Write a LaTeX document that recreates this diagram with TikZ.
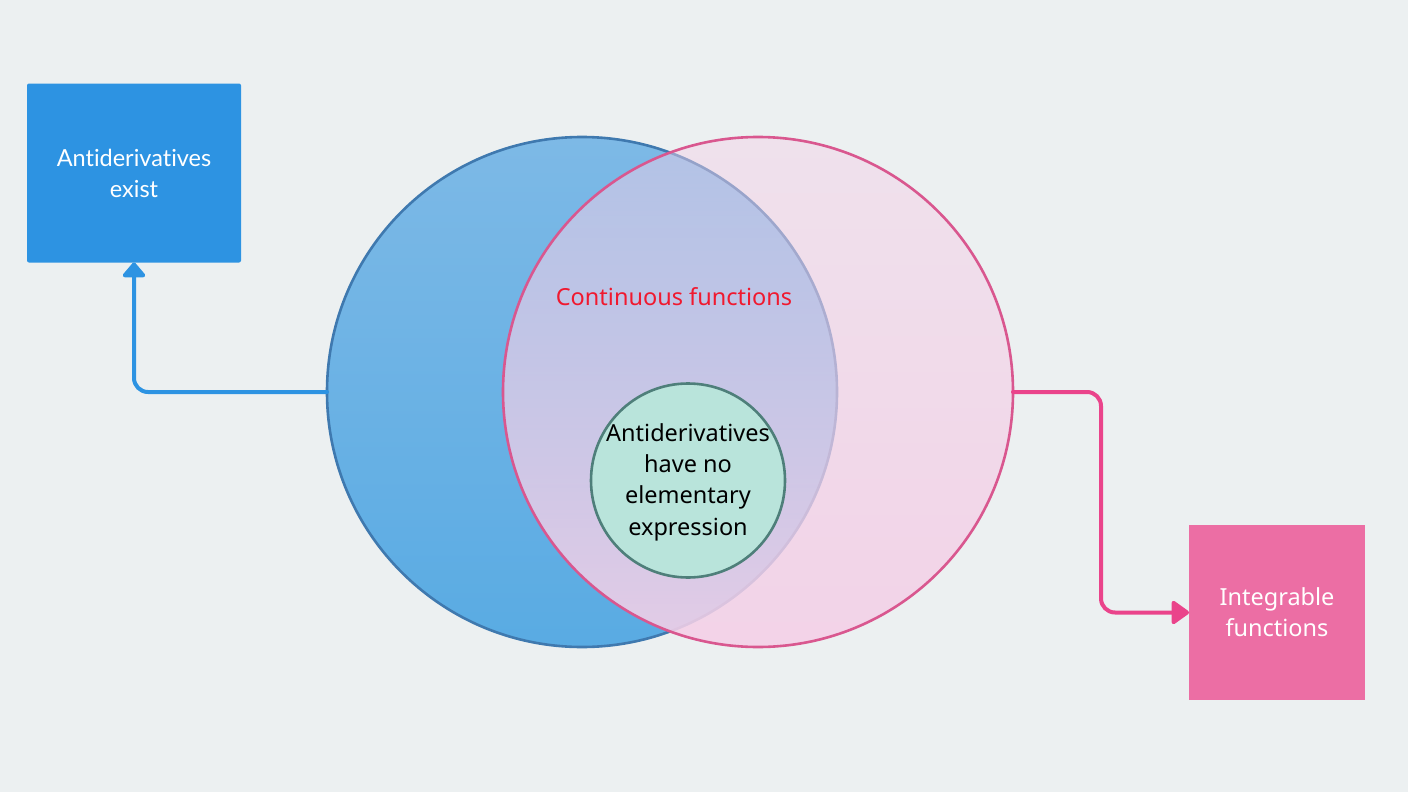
\documentclass[tikz,border=0pt]{standalone}
\usepackage{fontspec}
\setmainfont{Noto Sans}
\newfontfamily\latofont[Ligatures=NoCommon]{Lato}
\usetikzlibrary{arrows.meta,calc,fadings}

\definecolor{bgcol}{HTML}{ECF0F1}
\definecolor{boxblue}{HTML}{2D93E2}
\definecolor{boxpink}{HTML}{EC6EA4}
\definecolor{arrowpink}{HTML}{EA448B}
\definecolor{blueTop}{HTML}{7DB9E6}
\definecolor{blueBot}{HTML}{59ABE3}
\definecolor{blueEdge}{HTML}{3F79AF}
\definecolor{pinkWash}{RGB}{244,208,231}
\definecolor{pinkEdge}{HTML}{D9578F}
\definecolor{mintFill}{HTML}{B9E4DB}
\definecolor{mintEdge}{HTML}{4E7F7A}
\definecolor{labelred}{HTML}{F0192F}

% the pink set gets more opaque towards its bottom
\tikzfading[name=pinkfade, top color=transparent!55, bottom color=transparent!10]

\tikzset{
  boxnode/.style={rectangle, rounded corners=2pt, outer sep=0pt, align=center,
    text=white, font=\fontsize{23.5}{31}\selectfont},
  setcircle/.style={circle, minimum size=510pt, inner sep=0pt, outer sep=0pt, line width=2.6pt},
  link/.style={line width=4pt, rounded corners=14pt, line cap=round},
}

\begin{document}
\begin{tikzpicture}[x=1pt,y=-1pt]
  \useasboundingbox (0,0) rectangle (1408,792);
  \fill[bgcol] (0,0) rectangle (1408,792);

  % outer boxes
  \node[boxnode, fill=boxblue, minimum width=214pt, minimum height=179pt,
        font=\latofont\fontsize{23.5}{31}\selectfont]
        (exist) at (134,173) {Antiderivatives\\exist};
  \node[boxnode, fill=boxpink, rounded corners=0pt, minimum width=176pt, minimum height=175pt]
        (integ) at (1277,612.5) {Integrable\\functions};

  % the two overlapping sets
  \node[setcircle, draw=blueEdge, top color=blueTop, bottom color=blueBot] (cont) at (582,392) {};
  \node[setcircle] (intg) at (758,392) {};
  \fill[pinkWash, path fading=pinkfade] (intg.center) circle (255pt);
  \draw[pinkEdge, line width=2.6pt] (intg.center) circle (255pt);

  % inner set and its caption
  \node[circle, minimum size=194pt, inner sep=0pt, outer sep=0pt, line width=2.6pt,
        draw=mintEdge, fill=mintFill] (noelem) at (688,480.5) {};
  \node[align=center, inner sep=0pt, font=\fontsize{23.5}{31.3}\selectfont]
        (noelemtext) at ($(noelem.center)+(0,1.5)$)
        {Antiderivatives\\have no\\elementary\\expression};

  \node[text=labelred, font=\fontsize{23.5}{28}\selectfont] (contlabel) at (674,297) {Continuous functions};

  % connectors
  \draw[link, boxblue, -{Triangle[length=16pt,width=26pt,round]}] (cont.west) -| (exist.south);
  \coordinate (turn) at ($(intg.east)!0.5!(integ.west)$);
  \draw[link, arrowpink, -{Triangle[length=19pt,width=26pt,round]}] (intg.east) -| (turn) |- (integ.west);
\end{tikzpicture}
\end{document}
